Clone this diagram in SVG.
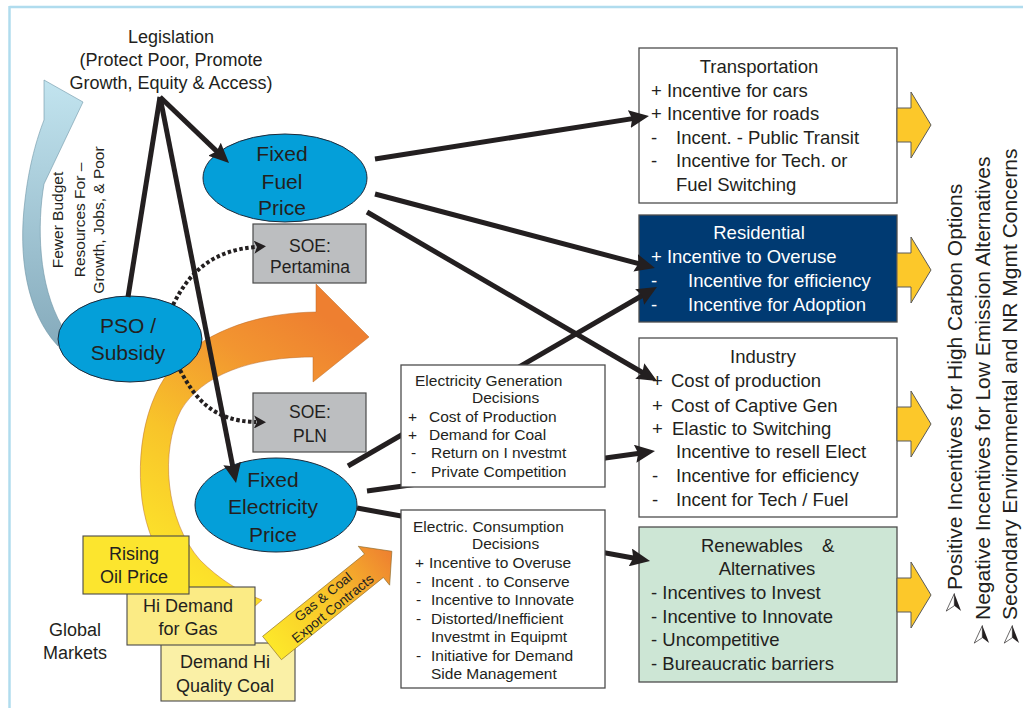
<svg xmlns="http://www.w3.org/2000/svg" width="1023" height="708" viewBox="0 0 1023 708">
<defs>
<style>
text { font-family: "Liberation Sans", Arial, sans-serif; fill: #231f20; }
.f18 { font-size: 18px; }
.f185 { font-size: 18.5px; }
.f21 { font-size: 21px; }
.f175 { font-size: 17.5px; }
.f155 { font-size: 15.5px; }
.mid { text-anchor: middle; }
.wt { fill: #ffffff; }
.ell { fill: #049fd9; stroke: #1d2a3a; stroke-width: 1; }
.soe { fill: #bcbec0; stroke: #4a4a4a; stroke-width: 1.2; }
.box { fill: #ffffff; stroke: #4d4d4d; stroke-width: 1.3; }
.ybox { stroke: #4a4a4a; stroke-width: 1.1; }
.yarrow { fill: #fcc82a; stroke: #5a5a5a; stroke-width: 1; }
.line { fill: none; stroke: #231f20; stroke-width: 5; }
.arr { marker-end: url(#ah); }
.dot { fill: none; stroke: #231f20; stroke-width: 4; stroke-dasharray: 3.5 2.5; marker-end: url(#dh); }
.bullet-l { fill: #ffffff; stroke: #231f20; stroke-width: 0.5; }
.bullet-r { fill: #231f20; }
</style>
<marker id="ah" markerUnits="userSpaceOnUse" markerWidth="20" markerHeight="18" refX="10" refY="9" orient="auto">
<path d="M0,0 L20,9 L0,18 L3,9 Z" fill="#231f20"/>
</marker>
<marker id="dh" markerUnits="userSpaceOnUse" markerWidth="13" markerHeight="13" refX="2" refY="6.5" orient="auto">
<path d="M0,0 L12,6.5 L0,13 L3,6.5 Z" fill="#231f20"/>
</marker>
<linearGradient id="gBlue" gradientUnits="userSpaceOnUse" x1="0" y1="80" x2="0" y2="345">
<stop offset="0" stop-color="#c2e4ef"/>
<stop offset="1" stop-color="#86abbc"/>
</linearGradient>
<linearGradient id="gArc" gradientUnits="userSpaceOnUse" x1="175" y1="585" x2="345" y2="330">
<stop offset="0" stop-color="#fde82a"/>
<stop offset="0.4" stop-color="#f8c42a"/>
<stop offset="0.75" stop-color="#f29530"/>
<stop offset="1" stop-color="#ee7f30"/>
</linearGradient>
<linearGradient id="gGas" gradientUnits="userSpaceOnUse" x1="0" y1="0" x2="154" y2="0">
<stop offset="0" stop-color="#fde82a"/>
<stop offset="0.5" stop-color="#f8c42a"/>
<stop offset="1" stop-color="#ee7f30"/>
</linearGradient>
</defs>

<g id="frame">
<line x1="9.5" y1="7" x2="1023" y2="7" stroke="#b0dcee" stroke-width="2.5"/>
<line x1="9.5" y1="6" x2="9.5" y2="708" stroke="#b0dcee" stroke-width="2.5"/>
</g>

<g id="budget-arrow">
<path d="M44,80 L83,102 L44,184 C37,225 38,285 62,326 L58,346 C26,312 18,255 25,200 C29,165 37,138 44,120 Z" fill="url(#gBlue)" stroke="#6f95a6" stroke-width="0.6"/>
<g transform="translate(63,220) rotate(-90)">
<text class="f155 mid" x="0" y="0">Fewer Budget</text>
<text class="f155 mid" x="0" y="21.5">Resources For –</text>
<text class="f155 mid" x="0" y="41">Growth, Jobs, &amp; Poor</text>
</g>
</g>

<g id="price-pressure-arrow">
<path d="M316,312 L316,284 L369,337 L313,382 L313,357 C250,357 202,375 181,410 C160,450 165,520 200,560 C220,580 240,592 262,600 L230,628 C190,602 150,562 142,500 C135,440 150,380 190,350 C222,327 262,313 316,312 Z" fill="url(#gArc)" stroke="#b86a2a" stroke-width="0.5"/>
</g>

<g id="legislation">
<text class="f18 mid" x="171" y="43">Legislation</text>
<text class="f18 mid" x="171" y="66">(Protect Poor, Promote</text>
<text class="f18 mid" x="171" y="89">Growth, Equity &amp; Access)</text>
</g>

<g id="pso-subsidy">
<ellipse class="ell" cx="130" cy="339" rx="72" ry="43"/>
<text class="f21 mid" x="128" y="333">PSO /</text>
<text class="f21 mid" x="128" y="360">Subsidy</text>
</g>

<g id="fixed-fuel-price">
<ellipse class="ell" cx="285" cy="178" rx="82" ry="44"/>
<text class="f21 mid" x="282" y="161">Fixed</text>
<text class="f21 mid" x="282" y="189">Fuel</text>
<text class="f21 mid" x="282" y="215">Price</text>
</g>

<g id="fixed-electricity-price">
<ellipse class="ell" cx="276" cy="505" rx="81" ry="47"/>
<text class="f21 mid" x="273" y="487">Fixed</text>
<text class="f21 mid" x="273" y="514">Electricity</text>
<text class="f21 mid" x="273" y="542">Price</text>
</g>

<g id="soe-pertamina">
<rect class="soe" x="253" y="224" width="113" height="59"/>
<text class="f175 mid" x="310" y="252">SOE:</text>
<text class="f175 mid" x="310" y="273">Pertamina</text>
</g>

<g id="soe-pln">
<rect class="soe" x="253" y="393" width="113" height="59"/>
<text class="f175 mid" x="310" y="418">SOE:</text>
<text class="f175 mid" x="310" y="442">PLN</text>
</g>

<g id="demand-coal">
<rect class="ybox" x="161" y="643" width="134" height="58" fill="#faf0a6"/>
<text class="f18 mid" x="225" y="668">Demand Hi</text>
<text class="f18 mid" x="225" y="692">Quality Coal</text>
</g>

<g id="demand-gas">
<rect class="ybox" x="127" y="587" width="128" height="58" fill="#fbeb85"/>
<text class="f18 mid" x="188" y="612">Hi Demand</text>
<text class="f18 mid" x="188" y="635">for Gas</text>
</g>

<g id="rising-oil">
<rect class="ybox" x="83" y="536" width="106" height="58" fill="#fce52e"/>
<text class="f18 mid" x="134" y="560">Rising</text>
<text class="f18 mid" x="134" y="583">Oil Price</text>
</g>

<g id="global-markets">
<text class="f18 mid" x="75" y="636">Global</text>
<text class="f18 mid" x="75" y="659">Markets</text>
</g>

<g id="export-contracts" transform="translate(272,648) rotate(-38.9)">
<polygon points="0,-15 131,-15 131,-25 154,0 131,25 131,15 0,15" fill="url(#gGas)" stroke="#8a6a2a" stroke-width="0.6"/>
<text class="mid" style="font-size:13.5px" x="72" y="-3">Gas &amp; Coal</text>
<text class="mid" style="font-size:13.5px" x="72" y="12">Export Contracts</text>
</g>

<g id="transportation">
<rect class="box" x="639" y="48" width="258" height="155"/>
<text class="f185 mid" x="759" y="73">Transportation</text>
<text class="f185" x="651" y="97">+ Incentive for cars</text>
<text class="f185" x="651" y="120">+ Incentive for roads</text>
<text class="f185" x="651" y="144">-</text><text class="f185" x="676" y="144">Incent. -  Public Transit</text>
<text class="f185" x="651" y="167">-</text><text class="f185" x="676" y="167">Incentive for Tech. or</text>
<text class="f185" x="676" y="191">Fuel Switching</text>
</g>

<g id="residential">
<rect x="639" y="215" width="258" height="107" fill="#003a72" stroke="#4d4d4d" stroke-width="1.3"/>
<text class="f185 mid wt" x="759" y="239">Residential</text>
<text class="f185 wt" x="651" y="263">+ Incentive to Overuse</text>
<text class="f185 wt" x="651" y="287">-</text><text class="f185 wt" x="688" y="287">Incentive for efficiency</text>
<text class="f185 wt" x="651" y="311">-</text><text class="f185 wt" x="688" y="311">Incentive for Adoption</text>
</g>

<g id="industry">
<rect class="box" x="639" y="338" width="258" height="179"/>
<text class="f185 mid" x="763" y="363">Industry</text>
<text class="f185" x="652" y="387">+</text><text class="f185" x="671" y="387">Cost of production</text>
<text class="f185" x="652" y="412">+</text><text class="f185" x="671" y="412">Cost of Captive Gen</text>
<text class="f185" x="652" y="435">+</text><text class="f185" x="672" y="435">Elastic to Switching</text>
<text class="f185" x="676" y="458">Incentive to resell Elect</text>
<text class="f185" x="652" y="482">-</text><text class="f185" x="676" y="482">Incentive for efficiency</text>
<text class="f185" x="652" y="506">-</text><text class="f185" x="676" y="506">Incent  for Tech / Fuel</text>
</g>

<g id="renewables">
<rect x="639" y="527" width="258" height="155" fill="#cde6d5" stroke="#4d4d4d" stroke-width="1.3"/>
<text class="f185" x="701" y="552">Renewables</text><text class="f185" x="822" y="552">&amp;</text>
<text class="f185 mid" x="767" y="575">Alternatives</text>
<text class="f185" x="651" y="599">- Incentives to Invest</text>
<text class="f185" x="651" y="623">- Incentive to Innovate</text>
<text class="f185" x="651" y="646">- Uncompetitive</text>
<text class="f185" x="651" y="670">- Bureaucratic barriers</text>
</g>

<g id="outcome-arrows">
<polygon class="yarrow" points="897,108 911,108 911,92 931,125 911,158 911,142 897,142"/>
<polygon class="yarrow" points="897,253 911,253 911,237 931,270 911,303 911,287 897,287"/>
<polygon class="yarrow" points="897,407 911,407 911,391 931,424 911,457 911,441 897,441"/>
<polygon class="yarrow" points="897,578 911,578 911,562 931,595 911,628 911,612 897,612"/>
</g>

<g id="legend">
<text class="f21" transform="translate(962,590) rotate(-90)">Positive Incentives for High Carbon Options</text>
<text class="f21" transform="translate(990,620) rotate(-90)">Negative Incentives for Low Emission Alternatives</text>
<text class="f21" transform="translate(1017,620) rotate(-90)">Secondary Environmental and NR Mgmt Concerns</text>
<g transform="translate(953,603) scale(1.35)">
<polygon class="bullet-l" points="1,-7 -5,6 1,2"/><polygon class="bullet-r" points="1,-7 1,2 6,6"/>
</g>
<g transform="translate(981,635) scale(1.35)">
<polygon class="bullet-l" points="1,-7 -5,6 1,2"/><polygon class="bullet-r" points="1,-7 1,2 6,6"/>
</g>
<g transform="translate(1011,635) scale(1.35)">
<polygon class="bullet-l" points="1,-7 -5,6 1,2"/><polygon class="bullet-r" points="1,-7 1,2 6,6"/>
</g>
</g>

<g id="connectors">
<path class="line arr" d="M160,97 L221.8,156.1"/>
<path class="line" d="M160,97 L128,297"/>
<path class="line arr" d="M160,97 L234.1,473.2"/>
<path class="line arr" d="M375,159 L639.1,117.6"/>
<path class="line arr" d="M375,194 L645.3,265.4"/>
<path class="line arr" d="M367,212 L648.4,376"/>
<path class="line arr" d="M348,466 L648.3,292"/>
<path class="line arr" d="M367,491 L645.1,452.4"/>
<path class="line arr" d="M357,508 L640.2,559.2"/>
<path class="dot" d="M173,305 C190,270 215,250 256,247"/>
<path class="dot" d="M180,370 C195,398 212,421 256,422"/>
</g>

<g id="electricity-generation">
<rect class="box" x="401" y="365" width="204" height="122"/>
<text class="f155" x="415" y="386">Electricity Generation</text>
<text class="f155" x="472" y="403">Decisions</text>
<text class="f155" x="408" y="422">+</text><text class="f155" x="429" y="422">Cost of Production</text>
<text class="f155" x="408" y="440">+</text><text class="f155" x="429" y="440">Demand for Coal</text>
<text class="f155" x="411" y="458">-</text><text class="f155" x="431" y="458">Return on I nvestmt</text>
<text class="f155" x="411" y="477">-</text><text class="f155" x="431" y="477">Private Competition</text>
</g>

<g id="electric-consumption">
<rect class="box" x="401" y="510" width="204" height="178"/>
<text class="f155" x="413" y="532">Electric. Consumption</text>
<text class="f155" x="472" y="549">Decisions</text>
<text class="f155" x="415" y="568">+</text><text class="f155" x="429" y="568">Incentive to Overuse</text>
<text class="f155" x="416" y="587">-</text><text class="f155" x="431" y="587">Incent . to Conserve</text>
<text class="f155" x="416" y="605">-</text><text class="f155" x="431" y="605">Incentive to Innovate</text>
<text class="f155" x="416" y="624">-</text><text class="f155" x="431" y="624">Distorted/Inefficient</text>
<text class="f155" x="431" y="642">Investmt  in Equipmt</text>
<text class="f155" x="416" y="661">-</text><text class="f155" x="431" y="661">Initiative for Demand</text>
<text class="f155" x="431" y="679">Side Management</text>
</g>
</svg>
